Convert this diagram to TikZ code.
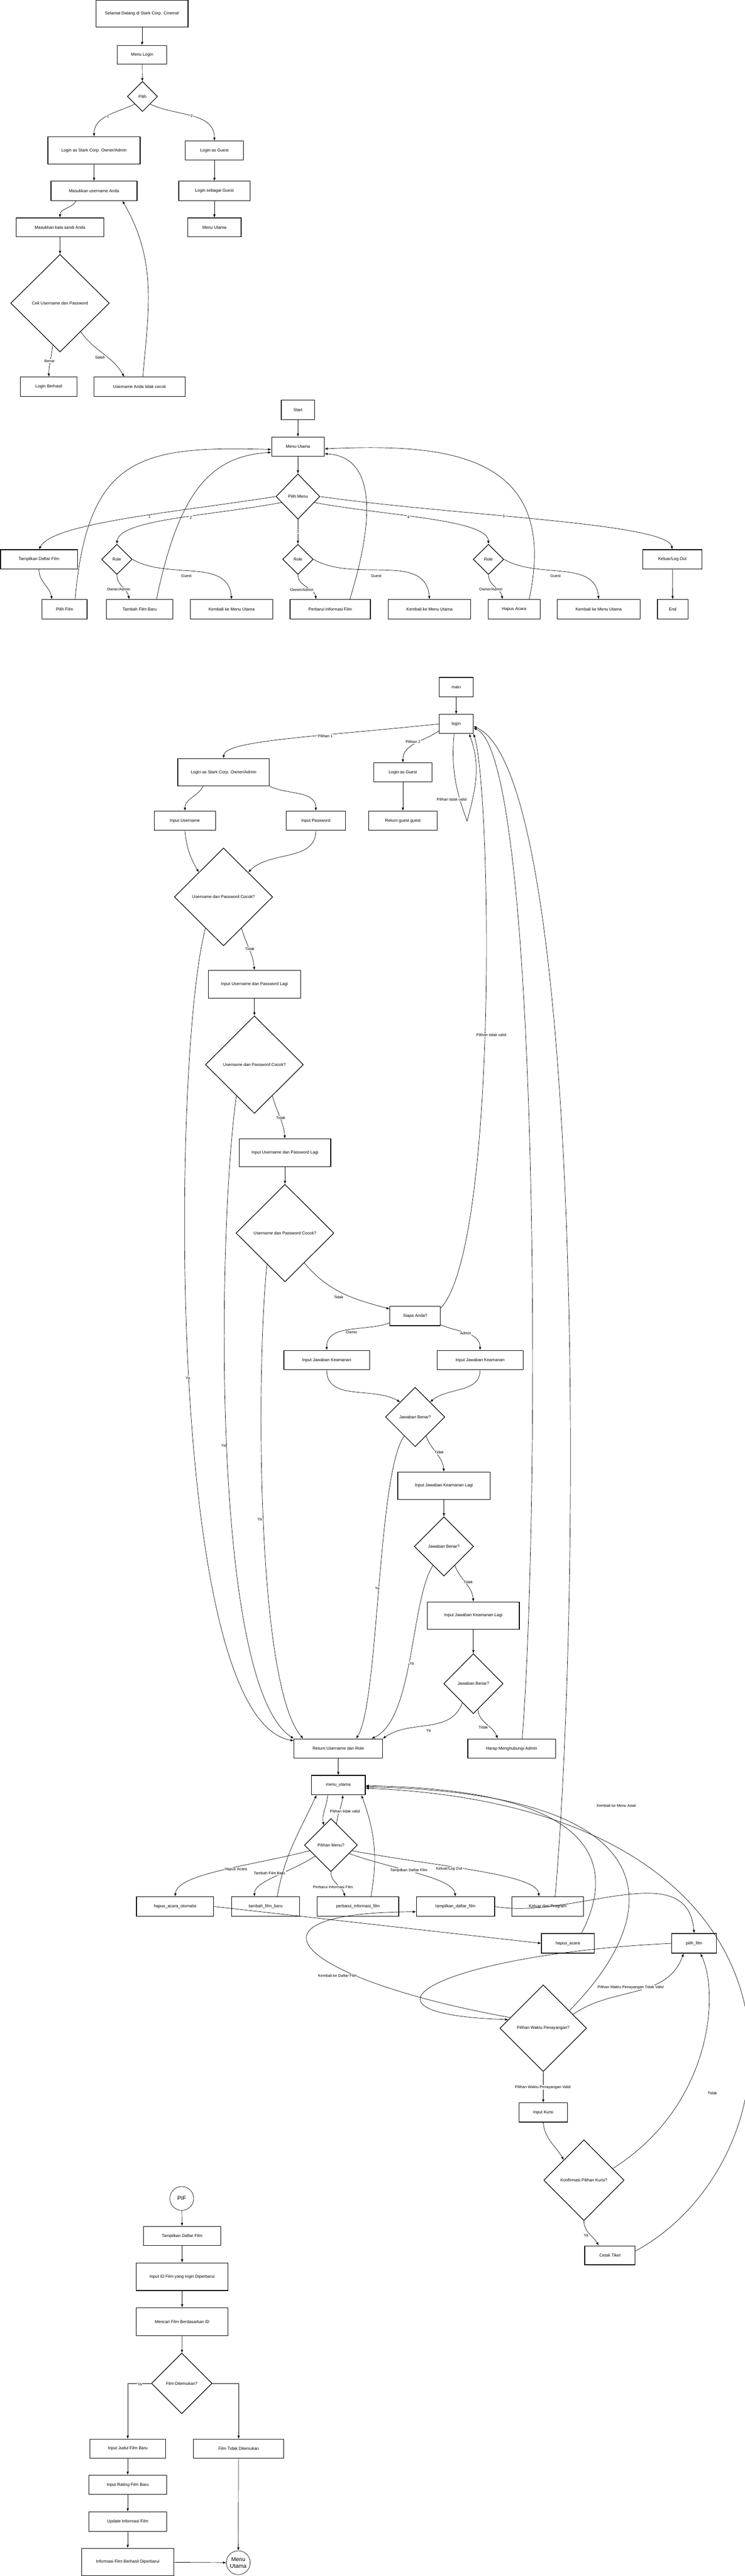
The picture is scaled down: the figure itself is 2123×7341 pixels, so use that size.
\documentclass[tikz,border=0pt]{standalone}
\usepackage{fontspec}
\setmainfont{Liberation Sans}
\usetikzlibrary{shapes.geometric,arrows.meta}
\newcommand{\boxfont}{\fontsize{12}{14}\selectfont}
\newcommand{\edgefont}{\fontsize{11}{13}\selectfont}

\begin{document}
\begin{tikzpicture}[x=1pt,y=-1pt,
  box/.style 2 args={draw,line width=1.8pt,minimum width=#1,minimum height=#2,inner sep=0pt,font=\boxfont},
  dec/.style 2 args={diamond,aspect=1,draw,line width=1.8pt,minimum width=#1,minimum height=#2,inner sep=0pt,font=\boxfont},
  term/.style={circle,draw,line width=1pt,minimum size=68pt,inner sep=0pt,align=center,font=\fontsize{16}{18}\selectfont},
  arr/.style={-{Latex[length=9pt,width=7pt]},line width=1pt},
  lbl/.style={fill=white,inner sep=1.5pt,font=\edgefont}]
  \path[use as bounding box,fill=white] (0,0) rectangle (2123,7341);

  \node[box={262}{77}] (sel) at (405,39) {Selamat Datang di Stark Corp. Cinema!};
  \node[box={141}{53}] (mlogin) at (405,156) {Menu Login};
  \node[dec={86}{86}] (pilih) at (406,275) {Pilih};
  \node[box={263}{78}] (lowner) at (268,429) {Login as Stark Corp. Owner/Admin};
  \node[box={166}{54}] (lguest) at (611,429) {Login as Guest};
  \node[box={245}{55}] (muser) at (268,544) {Masukkan username Anda};
  \node[box={203}{55}] (lsguest) at (611,544) {Login sebagai Guest};
  \node[box={249}{54}] (mpass) at (171,648) {Masukkan kata sandi Anda};
  \node[box={152}{54}] (mutama) at (611,648) {Menu Utama};
  \node[dec={281}{278}] (cek) at (171,864) {Cek Username dan Password};
  \node[box={162}{55}] (lok) at (139,1102) {Login Berhasil};
  \node[box={259}{55}] (lfail) at (398,1102) {Username Anda tidak cocok};

  \draw[arr] (sel) -- (mlogin);
  \draw[arr] (mlogin) -- (pilih);
  \draw[arr] (pilih.south west) to[out=205,in=90] (lowner.north) node[lbl] at (308,332) {1};
  \draw[arr] (pilih.south east) to[out=-25,in=90] (lguest.north) node[lbl] at (546,330) {2};
  \draw[arr] (lowner) -- (muser);
  \draw[arr] (lguest) -- (lsguest);
  \draw[arr] (lsguest) -- (mutama);
  \draw[arr] ([xshift=-51pt]muser.south) to[out=-120,in=90] (mpass.north);
  \draw[arr] (mpass) -- (cek);
  \draw[arr] (cek.260) to[out=-95,in=90] (lok.north) node[lbl] at (141,1029) {Benar};
  \draw[arr] (cek.-54) to[out=-55,in=120] ([xshift=-44pt]lfail.north) node[lbl] at (285,1018) {Salah};
  \draw[arr] ([xshift=9pt]lfail.north) to[out=85,in=-60] ([xshift=81pt]muser.south);

  \node[box={95}{55}] (start) at (849,1168) {Start};
  \node[box={150}{55}] (menu) at (849,1273) {Menu Utama};
  \node[dec={125}{129}] (pmenu) at (849,1415) {Pilih Menu};
  \node[box={219}{55}] (daftar) at (111,1594) {Tampilkan Daftar Film};
  \node[dec={87}{86}] (role1) at (333,1594) {Role};
  \node[dec={87}{86}] (role2) at (849,1594) {Role};
  \node[dec={87}{86}] (role3) at (1392,1594) {Role};
  \node[box={169}{55}] (logout) at (1916,1594) {Keluar/Log Out};
  \node[box={128}{55}] (pilihfilm) at (184,1736) {Pilih Film};
  \node[box={190}{55}] (tambah) at (398,1736) {Tambah Film Baru};
  \node[box={234}{55}] (back1) at (660,1736) {Kembali ke Menu Utama};
  \node[box={229}{55}] (perbarui) at (941,1736) {Perbarui Informasi Film};
  \node[box={235}{55}] (back2) at (1224,1736) {Kembali ke Menu Utama};
  \node[box={148}{55}] (hapus) at (1465,1736) {Hapus Acara};
  \node[box={236}{55}] (back3) at (1706,1736) {Kembali ke Menu Utama};
  \node[box={87}{55}] (fin) at (1917,1736) {End};

  \draw[arr] (start) -- (menu);
  \draw[arr] (menu) -- (pmenu);
  \draw[arr] (pmenu.west) .. controls (500,1460) and (150,1490) .. (daftar.north) node[lbl] at (426,1473) {1};
  \draw[arr] (pmenu.200) .. controls (600,1470) and (340,1480) .. (role1.north) node[lbl] at (544,1475) {2};
  \draw[arr] (pmenu) -- (role2) node[lbl] at (849,1515) {3};
  \draw[arr] (pmenu.-20) .. controls (1100,1470) and (1390,1480) .. (role3.north) node[lbl] at (1164,1474) {4};
  \draw[arr] (pmenu.east) .. controls (1300,1470) and (1900,1490) .. (logout.north) node[lbl] at (1436,1471) {5};
  \draw[arr] (daftar.south) to[out=-90,in=100] ([xshift=-36pt]pilihfilm.north);
  \draw[arr] (role1.south) to[out=-90,in=100] ([xshift=-30pt]tambah.north) node[lbl] at (338,1679) {Owner/Admin};
  \draw[arr] (role1.east) to[out=-30,in=95] (back1.north) node[lbl] at (531,1642) {Guest};
  \draw[arr] (role2.south) to[out=-90,in=100] ([xshift=-40pt]perbarui.north) node[lbl] at (860,1681) {Owner/Admin};
  \draw[arr] (role2.east) to[out=-30,in=95] (back2.north) node[lbl] at (1072,1642) {Guest};
  \draw[arr] (role3.south) to[out=-90,in=100] ([xshift=-33pt]hapus.north) node[lbl] at (1399,1680) {Owner/Admin};
  \draw[arr] (role3.east) to[out=-30,in=95] (back3.north) node[lbl] at (1583,1642) {Guest};
  \draw[arr] (logout) -- (fin);
  \draw[arr] ([xshift=30pt]pilihfilm.north) .. controls (250,1300) and (400,1270) .. ([yshift=-8pt]menu.west);
  \draw[arr] ([xshift=48pt]tambah.north) .. controls (510,1400) and (600,1300) .. ([yshift=-16pt]menu.west);
  \draw[arr] ([xshift=56pt]perbarui.north) .. controls (1085,1420) and (1045,1300) .. ([yshift=-20pt]menu.east);
  \draw[arr] ([xshift=43pt]hapus.north) .. controls (1600,1280) and (1250,1265) .. ([yshift=-6pt]menu.east);

  \node[box={96}{55}] (main) at (1300,1958) {main};
  \node[box={97}{54}] (login) at (1300,2063) {login};
  \node[box={261}{78}] (owner) at (637,2201) {Login as Stark Corp. Owner/Admin};
  \node[box={166}{54}] (guest) at (1148,2201) {Login as Guest};
  \node[box={174}{55}] (inuser) at (527,2339) {Input Username};
  \node[box={168}{55}] (inpass) at (900,2339) {Input Password};
  \node[box={196}{55}] (retguest) at (1148,2339) {Return guest guest};
  \node[dec={280}{279}] (cocok1) at (637,2556) {Username dan Password Cocok?};
  \node[box={263}{79}] (lagi1) at (725,2805) {Input Username dan Password Lagi};
  \node[dec={279}{278}] (cocok2) at (725,3034) {Username dan Password Cocok?};
  \node[box={261}{79}] (lagi2) at (812,3285) {Input Username dan Password Lagi};
  \node[dec={279}{278}] (cocok3) at (812,3514) {Username dan Password Cocok?};
  \node[box={144}{55}] (siapa) at (1183,3750) {Siapa Anda?};
  \node[box={244}{55}] (jawab1) at (931,3876) {Input Jawaban Keamanan};
  \node[box={245}{55}] (jawab2) at (1368,3876) {Input Jawaban Keamanan};
  \node[dec={169}{169}] (benar1) at (1183,4038) {Jawaban Benar?};
  \node[box={263}{78}] (ulang1) at (1265,4234) {Input Jawaban Keamanan Lagi};
  \node[dec={169}{169}] (benar2) at (1265,4407) {Jawaban Benar?};
  \node[box={262}{78}] (ulang2) at (1349,4604) {Input Jawaban Keamanan Lagi};
  \node[dec={169}{171}] (benar3) at (1349,4798) {Jawaban Benar?};
  \node[box={252}{55}] (retrole) at (964,4983) {Return Username dan Role};
  \node[box={250}{55}] (hubungi) at (1458,4983) {Harap Menghubungi Admin};
  \node[box={154}{55}] (mutama2) at (964,5087) {menu\_utama};
  \node[dec={151}{151}] (pmenu2) at (943,5258) {Pilihan Menu?};
  \node[box={220}{55}] (fhao) at (499,5433) {hapus\_acara\_otomatis};
  \node[box={193}{55}] (ftambah) at (757,5433) {tambah\_film\_baru};
  \node[box={233}{55}] (fperbarui) at (1020,5433) {perbarui\_informasi\_film};
  \node[box={223}{55}] (fdaftar) at (1298,5433) {tampilkan\_daftar\_film};
  \node[box={204}{55}] (keluarp) at (1561,5433) {Keluar dari Program};
  \node[box={150}{56}] (fhapus) at (1618,5538) {hapus\_acara};
  \node[box={128}{56}] (fpilih) at (1978,5538) {pilih\_film};
  \node[dec={247}{247}] (waktu) at (1548,5780) {Pilihan Waktu Penayangan?};
  \node[box={138}{55}] (kursi) at (1548,6020) {Input Kursi};
  \node[dec={229}{230}] (konfirm) at (1664,6213) {Konfirmasi Pilihan Kursi?};
  \node[box={143}{54}] (tiket) at (1738,6427) {Cetak Tiket};
  \coordinate (looptip) at (1331,2340);

  \draw[arr] (main) -- (login);
  \draw[arr] (login.west) .. controls (900,2100) and (640,2110) .. (owner.north) node[lbl] at (927,2098) {Pilihan 1};
  \draw[arr] ([yshift=-20pt]login.west) to[out=215,in=90] (guest.north) node[lbl] at (1177,2114) {Pilihan 2};
  \draw[arr] ([xshift=-6pt]login.south) to[out=-95,in=110] (looptip) to[out=75,in=-70] ([xshift=37pt]login.south) node[lbl] at (1287,2278) {Pilihan tidak valid};
  \draw[arr] (guest) -- (retguest);
  \draw[arr] ([xshift=-58pt]owner.south) to[out=-120,in=90] (inuser.north);
  \draw[arr] (owner.south east) to[out=-25,in=90] (inpass.north);
  \draw[arr] (inuser.south) to[out=-85,in=120] (cocok1.north west);
  \draw[arr] (inpass.south) to[out=-90,in=45] (cocok1.north east);
  \draw[arr] (cocok1.-60) to[out=-75,in=95] (lagi1.north) node[lbl] at (712,2704) {Tidak};
  \draw[arr] (lagi1) -- (cocok2);
  \draw[arr] (cocok2.-60) to[out=-75,in=95] (lagi2.north) node[lbl] at (800,3185) {Tidak};
  \draw[arr] (lagi2) -- (cocok3);
  \draw[arr] (cocok3.-57) to[out=-50,in=165] ([yshift=20pt]siapa.west) node[lbl] at (965,3697) {Tidak};
  \draw[arr] ([yshift=-20pt]siapa.west) to[out=200,in=90] (jawab1.north) node[lbl] at (1002,3796) {Owner};
  \draw[arr] ([yshift=-25pt]siapa.east) to[out=-25,in=90] (jawab2.north) node[lbl] at (1327,3800) {Admin};
  \draw[arr] ([yshift=22pt]siapa.east) .. controls (1420,3550) and (1400,2250) .. (login.south east) node[lbl] at (1400,2950) {Pilihan tidak valid};
  \draw[arr] (jawab1.south) to[out=-90,in=150] (benar1.north west);
  \draw[arr] (jawab2.south) to[out=-90,in=40] (benar1.north east);
  \draw[arr] (benar1.-60) to[out=-70,in=95] (ulang1.north) node[lbl] at (1251,4139) {Tidak};
  \draw[arr] (ulang1) -- (benar2);
  \draw[arr] (benar2.-60) to[out=-70,in=95] (ulang2.north) node[lbl] at (1334,4508) {Tidak};
  \draw[arr] (ulang2) -- (benar3);
  \draw[arr] (benar3.-120) to[out=-110,in=35] (retrole.north east) node[lbl] at (1221,4931) {Ya};
  \draw[arr] (benar3.-80) to[out=-85,in=110] ([xshift=-40pt]hubungi.north) node[lbl] at (1377,4922) {Tidak};
  \draw[arr] ([xshift=30pt]hubungi.north) .. controls (1540,4300) and (1540,2150) .. ([yshift=-12pt]login.east);
  \draw[arr] ([xshift=21pt]keluarp.north) .. controls (1660,4500) and (1660,2200) .. ([yshift=-7pt]login.east);
  \draw[arr] (cocok1.-120) .. controls (490,3000) and (470,4900) .. ([yshift=-6pt]retrole.north west) node[lbl] at (535,3927) {Ya};
  \draw[arr] (cocok2.-120) .. controls (620,3500) and (600,4800) .. (retrole.north west) node[lbl] at (637,4120) {Ya};
  \draw[arr] (cocok3.-120) .. controls (730,3900) and (730,4800) .. ([xshift=-100pt]retrole.north) node[lbl] at (740,4330) {Ya};
  \draw[arr] (benar1.-120) .. controls (1075,4200) and (1080,4850) .. ([xshift=51pt]retrole.north) node[lbl] at (1075,4526) {Ya};
  \draw[arr] (benar2.-120) .. controls (1170,4560) and (1180,4900) .. ([xshift=95pt]retrole.north) node[lbl] at (1173,4740) {Ya};
  \draw[arr] (retrole) -- (mutama2);
  \draw[arr] ([xshift=-30pt]mutama2.south) to[out=-95,in=100] (pmenu2.110);
  \draw[arr] (pmenu2.75) to[out=85,in=-95] ([xshift=13pt]mutama2.south) node[lbl] at (983,5162) {Pilihan tidak valid};
  \draw[arr] (pmenu2.195) .. controls (700,5320) and (505,5340) .. (fhao.north) node[lbl] at (672,5328) {Hapus Acara};
  \draw[arr] (pmenu2.215) .. controls (820,5340) and (725,5360) .. ([xshift=-32pt]ftambah.north) node[lbl] at (768,5338) {Tambah Film Baru};
  \draw[arr] (pmenu2.south) to[out=-90,in=105] ([xshift=-37pt]fperbarui.north) node[lbl] at (949,5378) {Perbarui Informasi Film};
  \draw[arr] (pmenu2.-25) .. controls (1130,5330) and (1290,5350) .. (fdaftar.north) node[lbl] at (1165,5330) {Tampilkan Daftar Film};
  \draw[arr] (pmenu2.-15) .. controls (1250,5320) and (1530,5340) .. ([xshift=-25pt]keluarp.north) node[lbl] at (1280,5326) {Keluar/Log Out};
  \draw[arr] ([xshift=33pt]ftambah.north) to[out=80,in=-115] ([xshift=-62pt]mutama2.south);
  \draw[arr] ([xshift=37pt]fperbarui.north) to[out=80,in=-70] ([xshift=66pt]mutama2.south);
  \draw[arr] (fhao.east) -- (fhapus.west);
  \draw[arr] (fdaftar.east) to[out=-10,in=95] (fpilih.north);
  \draw[arr] ([xshift=39pt]fhapus.north) .. controls (1740,5350) and (1760,5100) .. ([yshift=-2pt]mutama2.east);
  \draw[arr] (waktu.34) .. controls (1900,5450) and (1920,5110) .. ([yshift=-5pt]mutama2.east);
  \draw[arr] ([yshift=12pt]tiket.east) .. controls (2300,6150) and (2380,5150) .. ([yshift=-9pt]mutama2.east) node[lbl] at (1756,5145) {Kembali ke Menu Awal};
  \draw[arr] (fpilih.west) .. controls (1250,5570) and (950,5740) .. (waktu.166);
  \draw[arr] (waktu.162) .. controls (850,5640) and (650,5450) .. ([yshift=-15pt]fdaftar.west) node[lbl] at (962,5630) {Kembali ke Daftar Film};
  \draw[arr] (waktu.25) to[out=35,in=-110] ([xshift=-30pt]fpilih.south) node[lbl] at (1797,5663) {Pilihan Waktu Penayangan Tidak Valid};
  \draw[arr] (waktu) -- (kursi) node[lbl] at (1547,5948) {Pilihan Waktu Penayangan Valid};
  \draw[arr] (kursi.south) to[out=-85,in=120] (konfirm.north west);
  \draw[arr] (konfirm.south) to[out=-90,in=120] ([xshift=-32pt]tiket.north) node[lbl] at (1670,6370) {Ya};
  \draw[arr] (konfirm.22) .. controls (2030,6000) and (2050,5680) .. ([xshift=18pt]fpilih.south) node[lbl] at (2030,5965) {Tidak};

  \node[term] (pifnode) at (518,6265) {PIF};
  \node[box={220}{55}] (tampil) at (519,6372) {Tampilkan Daftar Film};
  \node[box={262}{79}] (inputid) at (519,6488) {Input ID Film yang Ingin Diperbarui};
  \node[box={262}{79}] (cari) at (519,6616) {Mencari Film Berdasarkan ID};
  \node[dec={173}{173}] (ditemukan) at (518,6792) {Film Ditemukan?};
  \node[box={216}{54}] (judul) at (364,6978) {Input Judul Film Baru};
  \node[box={257}{54}] (tidakada) at (680,6978) {Film Tidak Ditemukan};
  \node[box={222}{55}] (rating) at (364,7081) {Input Rating Film Baru};
  \node[box={221}{56}] (update) at (364,7186) {Update Informasi Film};
  \node[box={262}{78}] (berhasil) at (364,7301) {Informasi Film Berhasil Diperbarui};
  \node[term] (kembali) at (679,7303) {Menu\\Utama};

  \draw[arr] (pifnode) -- (tampil);
  \draw[arr] (tampil) -- (inputid);
  \draw[arr] (inputid) -- (cari);
  \draw[arr] (cari) -- (ditemukan);
  \draw[arr] (ditemukan.west) -| (judul.north) node[lbl] at (398,6794) {Ya};
  \draw[arr] (ditemukan.east) -| (tidakada.north);
  \draw[arr] (judul) -- (rating);
  \draw[arr] (rating) -- (update);
  \draw[arr] (update) -- (berhasil);
  \draw[arr] (tidakada) -- (kembali);
  \draw[arr] (berhasil) -- (kembali);
\end{tikzpicture}
\end{document}
